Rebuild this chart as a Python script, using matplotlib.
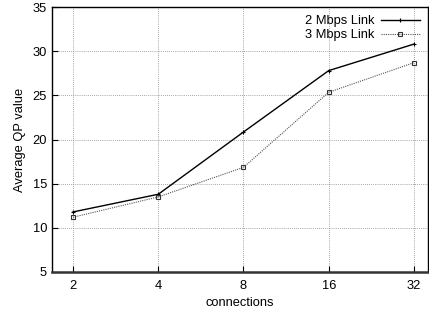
import matplotlib
matplotlib.use("Agg")
import matplotlib.pyplot as plt
from matplotlib.ticker import FixedLocator, NullLocator

plt.rcParams["font.family"] = ["Liberation Sans", "DejaVu Sans"]

connections = [2, 4, 8, 16, 32]
qp_2mbps = [11.8, 13.8, 20.85, 27.8, 30.8]
qp_3mbps = [11.2, 13.5, 16.85, 25.35, 28.7]
y_ticks = [5, 10, 15, 20, 25, 30, 35]

fs = 9.3

fig = plt.figure(figsize=(4.29, 3.14), dpi=100)
ax = fig.add_axes([52 / 429, 1 - 272 / 314, (428 - 52) / 429, (272 - 7) / 314])

ax.plot(connections, qp_2mbps, color="black", lw=1.0, marker="+", ms=3.5,
        mew=0.8, label="2 Mbps Link")
ax.plot(connections, qp_3mbps, color="#555555", lw=0.8, ls=(0, (1, 1)),
        marker="s", ms=3, mfc="none", mec="#333333", mew=0.8, label="3 Mbps Link")

ax.set_xscale("log", base=2)
ax.set_xlim(2 ** 0.753, 2 ** 5.165)
ax.set_ylim(5, 35)
ax.xaxis.set_major_locator(FixedLocator(connections))
ax.xaxis.set_minor_locator(NullLocator())
ax.set_xticklabels([str(c) for c in connections])
ax.set_yticks(y_ticks)

ax.grid(True, color="#888888", ls=(0, (1, 1.5)), lw=0.6)
ax.tick_params(direction="in", length=4, labelsize=fs, top=False, right=False)
ax.tick_params(axis="x", pad=6)
for s in ax.spines.values():
    s.set_linewidth(1.0)
ax.spines["bottom"].set_linewidth(1.8)
ax.spines["bottom"].set_color("#333333")

ax.set_xlabel("connections", fontsize=fs, labelpad=3)
ax.set_ylabel("Average QP value", fontsize=fs, labelpad=5)

leg = ax.legend(loc="upper right", markerfirst=False, frameon=False, fontsize=fs,
                handlelength=3, borderaxespad=0.25, labelspacing=0.15,
                handletextpad=0.5)
for t in leg.get_texts():
    t.set_ha("right")

fig.savefig("out.png", dpi=100)
